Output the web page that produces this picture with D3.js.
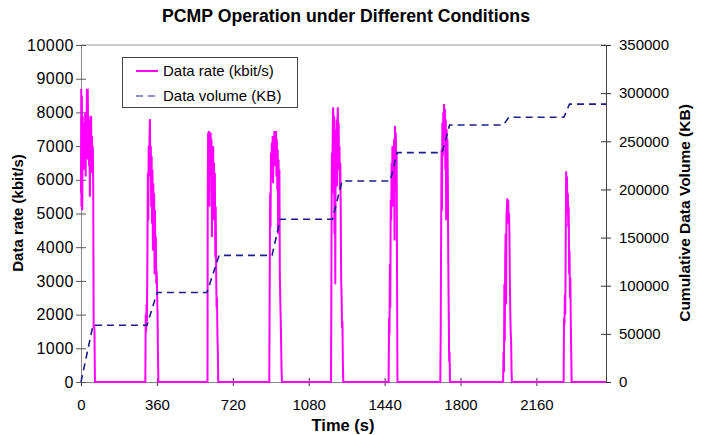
<!DOCTYPE html>
<html>
<head>
<meta charset="utf-8">
<script src="https://cdn.jsdelivr.net/npm/d3@7"></script>
<style>
    body { margin: 0; background: #fff; }
    text { font-family: Arial, "Liberation Sans", sans-serif; fill: #000; }
</style>
</head>
<body>
<div id="chart"></div>
<script>

// tick labels
const timeTicks = [0, 360, 720, 1080, 1440, 1800, 2160];
const rateTicks = [0, 1000, 2000, 3000, 4000, 5000, 6000, 7000, 8000, 9000, 10000];
const volumeTicks = [0, 50000, 100000, 150000, 200000, 250000, 300000, 350000];

// data rate bursts, [time (s), kbit/s]
const burst1 = [[0,5600],[1,8700],[2,5200],[4,8500],[6,5100],[8,7900],[10,6900],[12,7700],[14,6300],[16,7500],[18,7000],[20,8000],[22,6100],[24,7600],[26,7100],[28,8700],[30,6600],[32,8700],[34,7200],[36,7900],[38,6400],[40,7800],[42,5500],[44,7300],[46,6800],[48,7900],[50,6200],[52,7300],[54,6600],[56,7000],[58,5700],[60,1600],[62,1700],[64,1500],[66,0]];
const burst2 = [[305,0],[307,2000],[309,1500],[311,2300],[313,1800],[315,3900],[317,6200],[319,4800],[321,7000],[323,6400],[325,7300],[327,7800],[329,6100],[331,7000],[333,5200],[335,6700],[337,4700],[339,6300],[341,3900],[343,5900],[345,4400],[347,5600],[349,3200],[351,5100],[353,3400],[355,4300],[357,2900],[359,3300],[361,2700],[363,2000],[365,800],[367,0]];
const burst3 = [[600,0],[601,5600],[603,7400],[605,6400],[607,7450],[609,5200],[611,7300],[613,6800],[615,7400],[617,6100],[619,7200],[621,4300],[623,6900],[625,5800],[627,7000],[629,4800],[631,6500],[633,5500],[635,6200],[637,3700],[639,5200],[641,3300],[643,2200],[645,2500],[647,1400],[649,900],[651,0]];
const burst4 = [[893,0],[895,3000],[897,5600],[899,4600],[901,6800],[903,6000],[905,7100],[907,6300],[909,7300],[911,5900],[913,7000],[915,6500],[917,7450],[919,6400],[921,7400],[923,6800],[925,7450],[927,6100],[929,7200],[931,5700],[933,6900],[935,4400],[937,6600],[939,5200],[941,6300],[943,3200],[945,2500],[947,1900],[949,1200],[951,400],[953,0]];
const burst5 = [[1186,0],[1188,4200],[1190,6800],[1192,5600],[1194,7600],[1196,8150],[1198,6900],[1200,7900],[1202,4400],[1204,7500],[1206,2900],[1208,7200],[1210,6600],[1212,7800],[1214,5800],[1216,7600],[1218,8150],[1220,7000],[1222,7700],[1224,6300],[1226,7000],[1228,5700],[1230,6500],[1232,4900],[1234,3000],[1236,2500],[1238,1600],[1240,1800],[1242,600],[1244,0]];
const burst6 = [[1459,0],[1461,1900],[1463,1400],[1465,3500],[1467,2200],[1469,5400],[1471,4800],[1473,6500],[1475,5600],[1477,7000],[1479,5200],[1481,6900],[1483,6100],[1485,7200],[1487,4200],[1489,7600],[1491,6300],[1493,7400],[1495,5900],[1497,6800],[1499,3000],[1501,0]];
const burst7 = [[1704,0],[1706,1400],[1708,4300],[1710,6900],[1712,5100],[1714,7700],[1716,6700],[1718,8000],[1720,7300],[1722,8250],[1724,7600],[1726,8100],[1728,6300],[1730,7800],[1732,4800],[1734,7500],[1736,6600],[1738,7200],[1740,5900],[1742,3600],[1744,2200],[1746,600],[1748,900],[1750,0]];
const burst8 = [[2002,0],[2004,900],[2006,300],[2008,2900],[2010,1200],[2012,3700],[2014,4400],[2016,2300],[2018,4900],[2020,5200],[2022,5450],[2024,4700],[2026,5400],[2028,4900],[2030,5000],[2032,4400],[2034,3100],[2036,2100],[2038,1500],[2040,1200],[2042,300],[2044,0]];
const burst9 = [[2289,0],[2291,1900],[2293,1700],[2295,2600],[2297,2000],[2299,4300],[2301,6250],[2303,5600],[2305,6100],[2307,5000],[2309,5600],[2311,4600],[2313,5200],[2315,3200],[2317,3900],[2319,2500],[2321,3100],[2323,1800],[2325,900],[2327,0]];
const rateEnd = [[2490,0]];

// cumulative data volume, [time (s), KB]
const volume = [[0,0],[57,59000],[313,59000],[361,92900],[597,92900],[655,131500],[906,131500],[945,169100],[1193,169100],[1238,208700],[1467,208700],[1499,238200],[1713,238200],[1748,266900],[2003,266900],[2029,274900],[2290,274900],[2317,288600],[2490,288600]];

function main() {

    const margin = {top: 45, right: 102, bottom: 53, left: 81},
        width = 708 - margin.left - margin.right,
        height = 435 - margin.top - margin.bottom;

    const root = d3.select("#chart")
        .append("svg")
        .attr("width", 708)
        .attr("height", 435);

    const svg = root.append("g")
        .attr("transform", `translate(${margin.left},${margin.top})`);

    const rate = [].concat(burst1, burst2, burst3, burst4, burst5, burst6, burst7, burst8, burst9, rateEnd);

    const x = d3.scaleLinear().domain([0, 2490]).range([0, width]);
    const y = d3.scaleLinear().domain([0, 10000]).range([height, 0]);
    const y2 = d3.scaleLinear().domain([0, 350000]).range([height, 0]);
    const fmt = d3.format("d");

    // top border of plot area
    svg.append("line")
        .attr("x1", 0).attr("x2", width)
        .attr("y1", 0).attr("y2", 0)
        .attr("stroke", "#999");

    // X axis
    const xAxis = svg.append("g")
        .attr("transform", `translate(0,${height})`)
        .call(d3.axisBottom(x).tickValues(timeTicks).tickFormat(fmt).tickSize(4).tickSizeOuter(0).tickPadding(13));
    xAxis.selectAll(".tick line").attr("y1", -4).attr("stroke", "#333");
    xAxis.select(".domain").attr("stroke", "#888");

    // left Y axis
    const yAxis = svg.append("g")
        .call(d3.axisLeft(y).tickValues(rateTicks).tickFormat(fmt).tickSize(5).tickSizeOuter(0).tickPadding(2));
    yAxis.selectAll(".tick line").attr("x1", 5).attr("stroke", "#555");
    yAxis.select(".domain").attr("stroke", "#888");

    // right Y axis
    const yAxis2 = svg.append("g")
        .attr("transform", `translate(${width},0)`)
        .call(d3.axisRight(y2).tickValues(volumeTicks).tickFormat(fmt).tickSize(5).tickSizeOuter(0).tickPadding(8));
    yAxis2.selectAll(".tick line").attr("x1", -5).attr("stroke", "#333");
    yAxis2.select(".domain").attr("stroke", "#444");

    root.selectAll(".tick text")
        .attr("font-family", "Arial, 'Liberation Sans', sans-serif")
        .attr("font-size", "15px")
        .attr("fill", "#000");
    yAxis.selectAll(".tick text")
        .attr("font-size", "16px")
        .attr("letter-spacing", "0.5px");

    // data rate line
    svg.append("path")
        .datum(rate)
        .attr("fill", "none")
        .attr("stroke", "#ff00ff")
        .attr("stroke-width", 2)
        .attr("stroke-linejoin", "miter")
        .attr("d", d3.line()
            .x(function(d) { return x(d[0]) })
            .y(function(d) { return y(d[1]) })
        );

    // cumulative volume line
    svg.append("path")
        .datum(volume)
        .attr("fill", "none")
        .attr("stroke", "#1c1c8a")
        .attr("stroke-width", 1.6)
        .attr("stroke-dasharray", "7,5")
        .attr("d", d3.line()
            .x(function(d) { return x(d[0]) })
            .y(function(d) { return y2(d[1]) })
        );

    // titles
    root.append("text")
        .attr("x", 346).attr("y", 22)
        .attr("text-anchor", "middle")
        .attr("font-size", "17.5px").attr("font-weight", "bold")
        .attr("textLength", 368)
        .attr("lengthAdjust", "spacingAndGlyphs")
        .text("PCMP Operation under Different Conditions");

    root.append("text")
        .attr("x", 343).attr("y", 431)
        .attr("text-anchor", "middle")
        .attr("font-size", "16.5px").attr("font-weight", "bold")
        .text("Time (s)");

    root.append("text")
        .attr("transform", "translate(23,213) rotate(-90)")
        .attr("text-anchor", "middle")
        .attr("font-size", "15px").attr("font-weight", "bold")
        .text("Data rate (kbit/s)");

    root.append("text")
        .attr("transform", "translate(690,213) rotate(-90)")
        .attr("text-anchor", "middle")
        .attr("font-size", "15.5px").attr("font-weight", "bold")
        .text("Cumulative Data Volume (KB)");

    // legend
    const legend = root.append("g");
    legend.append("rect")
        .attr("x", 122.5).attr("y", 57.5)
        .attr("width", 175).attr("height", 50)
        .attr("fill", "#fff")
        .attr("stroke", "#444");
    legend.append("line")
        .attr("x1", 136).attr("x2", 158).attr("y1", 71).attr("y2", 71)
        .attr("stroke", "#ff00ff").attr("stroke-width", 2);
    legend.append("line")
        .attr("x1", 136).attr("x2", 158).attr("y1", 96).attr("y2", 96)
        .attr("stroke", "#6a6ab8").attr("stroke-width", 1.5)
        .attr("stroke-dasharray", "7,5");
    legend.append("text")
        .attr("x", 163).attr("y", 76)
        .attr("font-size", "15px")
        .text("Data rate (kbit/s)");
    legend.append("text")
        .attr("x", 163).attr("y", 101)
        .attr("font-size", "15px")
        .text("Data volume (KB)");
}

main()

</script>
</body>
</html>
